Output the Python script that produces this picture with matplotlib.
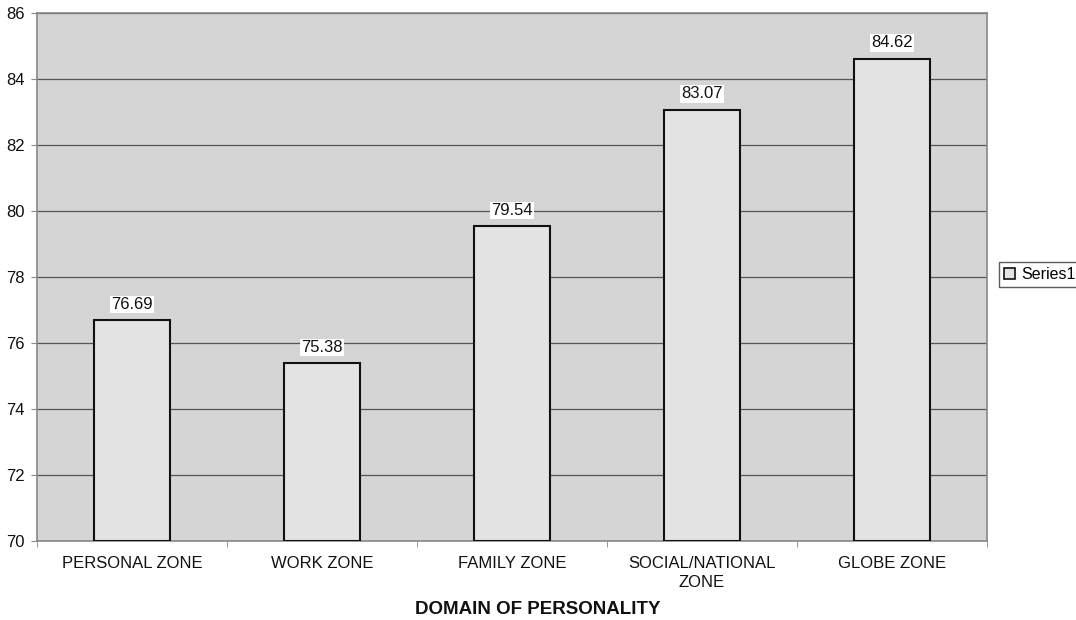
import matplotlib
matplotlib.use("Agg")
import matplotlib.pyplot as plt
from matplotlib.patches import Patch
from matplotlib.ticker import MultipleLocator, FixedLocator

categories = ["PERSONAL ZONE", "WORK ZONE", "FAMILY ZONE", "SOCIAL/NATIONAL\nZONE", "GLOBE ZONE"]
values = [76.69, 75.38, 79.54, 83.07, 84.62]
series_name = "Series1"
x_title = "DOMAIN OF PERSONALITY"

plt.rcParams['font.family'] = ['Liberation Sans', 'DejaVu Sans']

fig = plt.figure(figsize=(10.76, 6.2), dpi=100)
ax = fig.add_axes([37/1076, 1-541/620, (987-37)/1076, (541-13)/620])
ax.set_facecolor('#d5d5d5')

xs = list(range(len(categories)))
bars = ax.bar(xs, [v - 70 for v in values], bottom=70, width=0.4,
              color='#e3e3e3', edgecolor='#111111', linewidth=1.5, zorder=3)

for x, v in zip(xs, values):
    ax.annotate(f"{v:.2f}", (x, v), xytext=(0, 6), textcoords='offset points',
                ha='center', va='bottom', fontsize=12, color='#111111',
                bbox=dict(facecolor='white', edgecolor='none', pad=1.0), zorder=4)

ax.set_xlim(-0.5, len(categories) - 0.5)
ax.set_ylim(70, 86)
ax.yaxis.set_major_locator(MultipleLocator(2))
ax.grid(axis='y', color='#555555', linewidth=0.9, zorder=1)
ax.set_axisbelow(True)

ax.set_xticks(xs)
ax.set_xticklabels(categories, fontsize=12, color='#111111', linespacing=1.35)
ax.xaxis.set_minor_locator(FixedLocator([i + 0.5 for i in range(-1, len(categories))]))
ax.tick_params(axis='x', which='major', length=0, pad=11)
ax.tick_params(axis='x', which='minor', length=4, color='#888888')
ax.tick_params(axis='y', length=4, color='#888888', labelsize=12, labelcolor='#111111', pad=5)

for s in ax.spines.values():
    s.set_color('#888888')
    s.set_linewidth(1.2)

fig.text(0.5, 1 - 609/620, x_title, ha='center', va='center', fontsize=13.5,
         fontweight='bold', color='#111111')

leg = fig.legend(handles=[Patch(facecolor='#e3e3e3', edgecolor='#111111', linewidth=1.2, label=series_name)],
                 loc='upper left', bbox_to_anchor=(999/1076, 1 - 262/620), fontsize=11.5,
                 frameon=True, fancybox=False, handlelength=0.7, handleheight=0.7,
                 handletextpad=0.4, borderpad=0.3, borderaxespad=0)
leg.get_frame().set_edgecolor('#333333')
leg.get_frame().set_linewidth(1.0)

fig.savefig('out.png', dpi=100, facecolor='white')
